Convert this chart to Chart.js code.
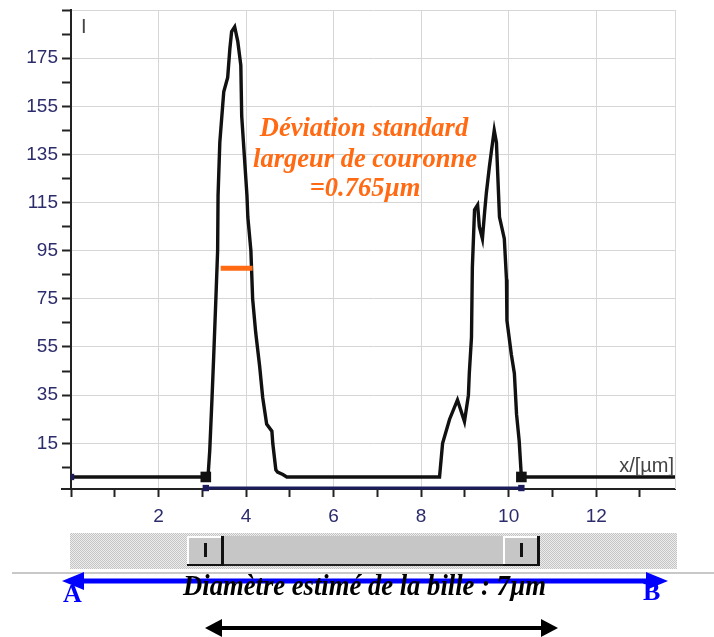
<!DOCTYPE html>
<html>
<head>
<meta charset="utf-8">
<script src="https://cdn.jsdelivr.net/npm/chart.js@4"></script>
<style>
html,body{margin:0;padding:0;background:#fff;}
#wrap{width:714px;height:637px;position:relative;}
</style>
</head>
<body>
<div id="wrap"><canvas id="c" width="714" height="637"></canvas></div>
<script>
// ---- data ----
const xProfile = [0, 3.08, 3.13, 3.17, 3.22, 3.26, 3.31, 3.35, 3.36, 3.40, 3.49, 3.58, 3.63, 3.67, 3.74, 3.81, 3.88, 3.90, 4.02, 4.04, 4.11, 4.15, 4.22, 4.31, 4.38, 4.47, 4.59, 4.61, 4.68, 4.72, 4.84, 4.93, 8.42, 8.49, 8.65, 8.83, 8.99, 9.08, 9.10, 9.15, 9.17, 9.22, 9.29, 9.33, 9.40, 9.45, 9.49, 9.56, 9.61, 9.67, 9.72, 9.79, 9.90, 9.95, 9.96, 10.06, 10.13, 10.18, 10.24, 10.29, 13.8];
const yProfile = [1, 1, 1, 12, 33, 51, 75, 95, 118, 140, 161, 167, 179, 186, 188, 182, 172, 151, 118, 109, 95, 75, 61, 47, 34, 23, 20, 15, 4, 3, 2, 1, 1, 15, 25, 33, 24, 35, 44, 59, 88, 112, 114, 105, 100, 111, 119, 130, 137, 145, 140, 109, 100, 83, 66, 52, 44, 27, 16, 1, 1];
const cursorX = [3.08, 10.29];
const cursorY = [1, 1];
const startX = [0];
const startY = [1];
const axisBarY = [-3.6, -3.6];
const fwhmX = [3.42, 4.15];
const fwhmY = [87.7, 87.7];
const xTickValues = [0,1,2,3,4,5,6,7,8,9,10,11,12,13];
const xTickLabels = [2,4,6,8,10,12];
const yTickValues = [5,15,25,35,45,55,65,75,85,95,105,115,125,135,145,155,165,175,185,195];
const yTickLabels = [15,35,55,75,95,115,135,155,175];
const yGridValues = [15,35,55,75,95,115,135,155,175,195];
const xMin = 0, xMax = 13.8, yMin = -4, yMax = 195;
const noteLines = ["Déviation standard", "largeur de couronne", "=0.765µm"];
const diameterText = "Diamètre estimé de la bille : 7µm";
const xTitle = "x/[µm]";
const yTitle = "I";

const pts = (xs, ys) => xs.map((x, i) => ({x: x, y: ys[i]}));

// hatched pattern for the slider track
function makePattern(ctx){
  const p = document.createElement('canvas'); p.width = 2; p.height = 2;
  const g = p.getContext('2d');
  g.fillStyle = '#ededed'; g.fillRect(0,0,2,2);
  g.fillStyle = '#c4c4c4'; g.fillRect(0,0,1,1); g.fillRect(1,1,1,1);
  return ctx.createPattern(p, 'repeat');
}

function arrow(ctx, x1, x2, y, w, headL, headH, color){
  ctx.save();
  ctx.strokeStyle = color; ctx.fillStyle = color; ctx.lineWidth = w;
  ctx.beginPath(); ctx.moveTo(x1 + headL - 2, y); ctx.lineTo(x2 - headL + 2, y); ctx.stroke();
  ctx.beginPath(); ctx.moveTo(x1, y); ctx.lineTo(x1 + headL, y - headH); ctx.lineTo(x1 + headL, y + headH); ctx.closePath(); ctx.fill();
  ctx.beginPath(); ctx.moveTo(x2, y); ctx.lineTo(x2 - headL, y - headH); ctx.lineTo(x2 - headL, y + headH); ctx.closePath(); ctx.fill();
  ctx.restore();
}

function thumb(ctx, cx, top, h){
  const w = 37, x = Math.round(cx - w/2);
  ctx.fillStyle = '#c6c6c6'; ctx.fillRect(x, top, w, h);
  ctx.fillStyle = '#ffffff'; ctx.fillRect(x, top, w, 2); ctx.fillRect(x, top, 2, h);
  ctx.fillStyle = '#111'; ctx.fillRect(x, top + h - 2, w, 2); ctx.fillRect(x + w - 3, top, 3, h);
  ctx.fillStyle = '#111'; ctx.fillRect(Math.round(cx - 1.5), top + 7, 3, 14);
}

const deco = {
  id: 'deco',
  afterDraw(chart){
    const ctx = chart.ctx, a = chart.chartArea, xs = chart.scales.x;
    ctx.save();
    // right border of plot
    ctx.strokeStyle = '#d8d8d8'; ctx.lineWidth = 1;
    ctx.beginPath(); ctx.moveTo(a.right + 0.5, a.top); ctx.lineTo(a.right + 0.5, a.bottom); ctx.stroke();
    // x-axis line extension to the left
    ctx.strokeStyle = '#222'; ctx.lineWidth = 2;
    ctx.beginPath(); ctx.moveTo(61, a.bottom); ctx.lineTo(a.left, a.bottom); ctx.stroke();
    // axis titles
    ctx.fillStyle = '#444';
    ctx.font = '20px "Liberation Sans"'; ctx.textAlign = 'left'; ctx.textBaseline = 'alphabetic';
    ctx.fillText(yTitle, 81, 33);
    ctx.font = '20px "Liberation Sans"'; ctx.textAlign = 'right';
    ctx.fillText(xTitle, 674, 472);
    // annotation text
    ctx.fillStyle = '#ff6a13'; ctx.textAlign = 'center';
    ctx.font = 'bold italic 26.5px "Liberation Serif"';
    ctx.fillText(noteLines[0], 364, 136);
    ctx.fillText(noteLines[1], 365, 167);
    ctx.fillText(noteLines[2], 365, 196);
    // slider
    const sTop = 533, sH = 36;
    ctx.fillStyle = makePattern(ctx);
    ctx.fillRect(a.left - 1, sTop, a.right - a.left + 3, sH);
    const c1 = xs.getPixelForValue(cursorX[0]), c2 = xs.getPixelForValue(cursorX[1]);
    ctx.fillStyle = '#c6c6c6'; ctx.fillRect(c1, sTop + 3, c2 - c1, sH - 6);
    ctx.fillStyle = '#222'; ctx.fillRect(c1, sTop + sH - 5, c2 - c1, 2);
    thumb(ctx, c1, sTop + 3, sH - 6);
    thumb(ctx, c2, sTop + 3, sH - 6);
    // separator line
    ctx.fillStyle = '#c8c8c8'; ctx.fillRect(12, 572, 702, 2);
    // blue arrow + A/B
    arrow(ctx, 62, 668, 581, 5, 22, 9, '#0000ff');
    ctx.fillStyle = '#0000ff'; ctx.textAlign = 'left';
    ctx.font = 'bold 26px "Liberation Serif"';
    ctx.fillText('A', 63, 602);
    ctx.fillText('B', 643, 600);
    // diameter text (condensed)
    ctx.fillStyle = '#000';
    ctx.font = 'bold italic 30px "Liberation Serif"';
    const tw = ctx.measureText(diameterText).width;
    const target = 363, sx = target / tw;
    ctx.save();
    ctx.translate(183, 595); ctx.scale(sx, 1);
    ctx.textAlign = 'left'; ctx.fillText(diameterText, 0, 0);
    ctx.restore();
    // black arrow
    arrow(ctx, 205, 558, 628, 4, 17, 9, '#000');
    ctx.restore();
  }
};

new Chart(document.getElementById('c'), {
  type: 'scatter',
  data: {
    datasets: [
      { data: pts(fwhmX, fwhmY), showLine: true, borderColor: '#ff6a13', borderWidth: 5, pointRadius: 0, order: 0, borderCapStyle: 'butt' },
      { data: pts(cursorX, cursorY), showLine: false, pointStyle: 'rect', pointRadius: 7.5, backgroundColor: '#111', borderColor: '#111', borderWidth: 0, order: 1 },
      { data: pts(startX, startY), showLine: false, pointStyle: 'rect', pointRadius: 4.5, backgroundColor: '#1c1c5c', borderColor: '#1c1c5c', borderWidth: 0, order: 2 },
      { data: pts(cursorX, axisBarY), showLine: true, borderColor: '#1c1c5c', borderWidth: 3, pointStyle: 'rect', pointRadius: 4.5, backgroundColor: '#1c1c5c', pointBorderWidth: 0, order: 3, clip: false },
      { data: pts(xProfile, yProfile), showLine: true, borderColor: '#111', borderWidth: 3.4, pointRadius: 0, tension: 0, order: 5 }
    ]
  },
  options: {
    responsive: false,
    animation: false,
    devicePixelRatio: 1,
    layout: { padding: { top: 10, right: 39, bottom: 0, left: 0 } },
    plugins: { legend: { display: false }, tooltip: { enabled: false } },
    scales: {
      x: {
        type: 'linear', min: xMin, max: xMax,
        afterBuildTicks: s => { s.ticks = xTickValues.map(v => ({value: v})); },
        afterFit: s => { s.height = 148; s.paddingLeft = 0; s.paddingRight = 0; },
        ticks: {
          autoSkip: false, maxRotation: 0, padding: 8,
          color: '#2c2c6c', font: { family: 'Liberation Sans', size: 19 },
          callback: v => xTickLabels.includes(v) ? String(v) : ''
        },
        grid: {
          color: c => (c.tick && xTickLabels.includes(c.tick.value)) ? '#d6d6d6' : 'rgba(0,0,0,0)',
          lineWidth: 1, tickColor: '#222', tickLength: 8, tickWidth: 2
        },
        border: { color: '#222', width: 2 }
      },
      y: {
        type: 'linear', min: yMin, max: yMax,
        afterBuildTicks: s => { s.ticks = yTickValues.map(v => ({value: v})); },
        afterFit: s => { s.width = 71; s.paddingTop = 0; s.paddingBottom = 0; },
        ticks: {
          autoSkip: false, padding: 4,
          color: '#2c2c6c', font: { family: 'Liberation Sans', size: 19 },
          callback: v => yTickLabels.includes(v) ? String(v) : ''
        },
        grid: {
          color: c => (c.tick && yGridValues.includes(c.tick.value)) ? '#d6d6d6' : 'rgba(0,0,0,0)',
          lineWidth: 1, tickColor: '#222', tickLength: 9, tickWidth: 2
        },
        border: { color: '#222', width: 2 }
      }
    }
  },
  plugins: [deco]
});
</script>
</body>
</html>
